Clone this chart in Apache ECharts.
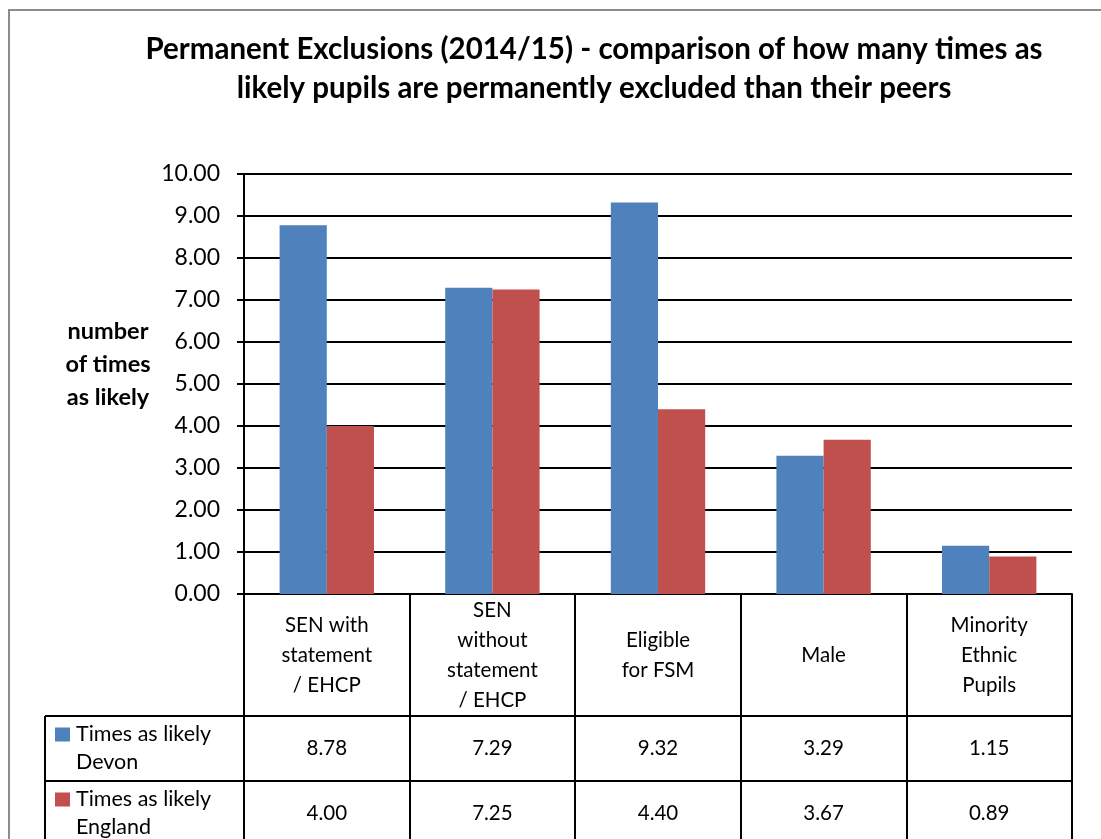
<!DOCTYPE html>
<html>
<head>
<meta charset="utf-8">
<script src="https://cdn.jsdelivr.net/npm/echarts@6/dist/echarts.min.js"></script>
<style>
html,body{margin:0;padding:0;background:#fff;}
#c{width:1101px;height:839px;}
</style>
</head>
<body>
<div id="c"></div>
<script>
const titleLines = ['Permanent Exclusions (2014/15) - comparison of how many times as', 'likely pupils are permanently excluded than their peers'];
const yAxisTitle = 'number\nof times\nas likely';
const categories = ['SEN with\nstatement\n/ EHCP', 'SEN\nwithout\nstatement\n/ EHCP', 'Eligible\nfor FSM', 'Male', 'Minority\nEthnic\nPupils'];
const seriesNames = ['Times as likely\nDevon', 'Times as likely\nEngland'];
const devon = [8.78, 7.29, 9.32, 3.29, 1.15];
const england = [4.00, 7.25, 4.40, 3.67, 0.89];
const seriesColors = ['#4F81BD', '#C0504D'];
const yMin = 0, yMax = 10, yStep = 1;

const FONT = 'Lato, "Open Sans", sans-serif';
const chart = echarts.init(document.getElementById('c'), null, {renderer: 'canvas'});

const G = {left: 244, right: 29, top: 174, bottom: 245};
const headerH = 122, rowH = 65, tableLeft = 45;

chart.setOption({
  animation: false,
  backgroundColor: '#fff',
  title: {
    text: titleLines.join('\n'),
    left: 589, top: 25, textAlign: 'center',
    textStyle: {fontFamily: FONT, fontWeight: 'bold', fontSize: 29.5, lineHeight: 39, color: '#000'}
  },
  grid: G,
  xAxis: {
    type: 'category',
    data: categories,
    boundaryGap: true,
    axisLine: {show: true, lineStyle: {color: '#000', width: 2}},
    axisTick: {show: true, interval: 0, length: 270, lineStyle: {color: '#000', width: 2}},
    axisLabel: {
      interval: 0, margin: 61, verticalAlign: 'middle',
      fontFamily: FONT, fontSize: 20.5, lineHeight: 30, color: '#000', align: 'center'
    },
    splitLine: {show: false}
  },
  yAxis: {
    type: 'value', min: yMin, max: yMax, interval: yStep,
    axisLine: {show: true, lineStyle: {color: '#000', width: 2}},
    axisTick: {show: true, length: 7, lineStyle: {color: '#000', width: 2}},
    axisLabel: {
      formatter: v => v.toFixed(2), margin: 24,
      fontFamily: FONT, fontSize: 23, color: '#000'
    },
    splitLine: {show: true, lineStyle: {color: '#000', width: 2}}
  },
  series: [
    {name: seriesNames[0], type: 'bar', data: devon, itemStyle: {color: seriesColors[0]}, barGap: '0%', barCategoryGap: '43%'},
    {name: seriesNames[1], type: 'bar', data: england, itemStyle: {color: seriesColors[1]}, barGap: '0%', barCategoryGap: '43%'}
  ]
});

// build data table + decorations from the arrays and the axis scale
const W = 1101, H = 839;
const gridRight = W - G.right;
const axisY = H - G.bottom;
const graphics = [];
// outer chart border
graphics.push({type: 'rect', shape: {x: 9, y: 10, width: 1200, height: 1000},
  style: {fill: null, stroke: '#8c8c8c', lineWidth: 2}, silent: true});
// y axis title
graphics.push({type: 'text', x: 108, y: 364,
  style: {text: yAxisTitle, fontFamily: FONT, fontWeight: 'bold', fontSize: 23.5, lineHeight: 33,
    fill: '#000', align: 'center', verticalAlign: 'middle'}});
const rowsData = [devon, england];
for (let r = 0; r < rowsData.length; r++) {
  const top = axisY + headerH + r * rowH;
  graphics.push({type: 'line', shape: {x1: tableLeft, y1: top, x2: gridRight, y2: top},
    style: {stroke: '#000', lineWidth: 2}});
  const cy = top + rowH / 2;
  graphics.push({type: 'rect', shape: {x: tableLeft + 10, y: cy - 21, width: 15, height: 14},
    style: {fill: seriesColors[r]}});
  graphics.push({type: 'text', x: tableLeft + 31, y: cy,
    style: {text: seriesNames[r], fontFamily: FONT, fontSize: 21.5, lineHeight: 28,
      fill: '#000', align: 'left', verticalAlign: 'middle'}});
  rowsData[r].forEach((v, i) => {
    const px = chart.convertToPixel({xAxisIndex: 0}, i);
    graphics.push({type: 'text', x: px, y: cy,
      style: {text: v.toFixed(2), fontFamily: FONT, fontSize: 20.5, fill: '#000',
        align: 'center', verticalAlign: 'middle'}});
  });
}
graphics.push({type: 'line', shape: {x1: tableLeft, y1: axisY + headerH, x2: tableLeft, y2: H + 20},
  style: {stroke: '#000', lineWidth: 2}});
chart.setOption({graphic: graphics});
</script>
</body>
</html>
